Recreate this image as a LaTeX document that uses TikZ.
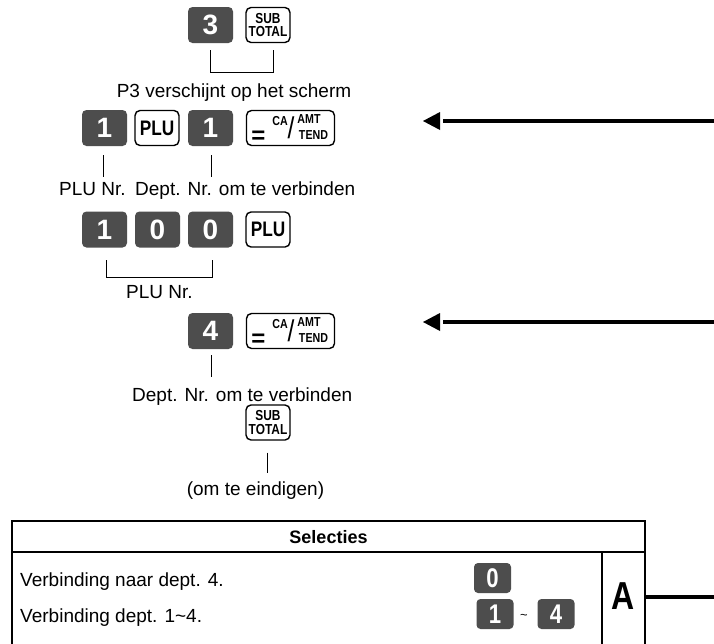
\documentclass[tikz,border=0pt]{standalone}
\usepackage{fontspec}
\setmainfont{Liberation Sans}
\newfontfamily\keyfont[FakeStretch=0.82]{Liberation Sans}
\usetikzlibrary{calc}
\definecolor{keygray}{RGB}{77,77,77}
\tikzset{
  dkey/.style={fill=keygray, draw=none, rounded corners=4.5pt, minimum width=45pt, minimum height=36pt, inner sep=0pt, text=white, font=\bfseries\fontsize{28}{28}\selectfont},
  wkey/.style={draw=black, line width=1.4pt, fill=white, rounded corners=5pt, minimum width=44pt, minimum height=35pt, inner sep=0pt, font=\keyfont\bfseries\fontsize{21}{21}\selectfont},
  subkey/.style={wkey, align=center, font=\keyfont\bfseries\fontsize{14.5}{13.5}\selectfont},
  cakey/.style={wkey, minimum width=88pt},
  cafont/.style={inner sep=0pt, font=\keyfont\bfseries\fontsize{13}{13}\selectfont},
  skey/.style={dkey, rounded corners=4pt, minimum width=37pt, minimum height=30pt, font=\keyfont\bfseries\fontsize{27}{27}\selectfont},
  lbl/.style={font=\fontsize{19}{22}\selectfont, inner sep=0pt},
  tickline/.style={line width=1pt},
  brk/.style={line width=1pt},
  fat/.style={line width=4.5pt},
  tline/.style={line width=1.8pt},
}
\newcommand\CAcontents[1]{%
  \node[cafont, font=\bfseries\fontsize{24}{24}\selectfont] (#1-eq) at ($(#1.center)+(-32,9)$) {=};
  \node[cafont] (#1-ca) at ($(#1.center)+(-10.5,-7)$) {CA};
  \node[cafont, font=\keyfont\fontsize{30}{30}\selectfont] (#1-sl) at ($(#1.center)+(0.5,0)$) {/};
  \node[cafont] (#1-amt) at ($(#1.center)+(18.5,-9)$) {AMT};
  \node[cafont] (#1-tend) at ($(#1.center)+(23,7)$) {TEND};
}
\begin{document}
\begin{tikzpicture}[x=1pt,y=-1pt]
\path[fill=white] (0,0) rectangle (714,643);
\useasboundingbox (0,0) rectangle (714,643);

% Row 1
\node[dkey] (k3) at (210.5,25) {3};
\node[subkey] (st1) at (268,25) {SUB\\TOTAL};
\draw[brk] ($(k3.south)+(0,7)$) |- ($(st1.south)+(5,29)$) -- ($(st1.south)+(5,7)$);
\node[lbl, anchor=base] (t1) at (234,97) {P3 verschijnt op het scherm};

% Row 2
\node[dkey] (k1a) at (104.5,128) {1};
\node[wkey] (plu1) at (157,128) {PLU};
\node[dkey] (k1b) at (210.5,128) {1};
\node[cakey] (ca1) at (290.5,128) {};
\CAcontents{ca1}
\node[lbl, anchor=base west] (lp1) at (59,195) {PLU Nr.};
\node[lbl, anchor=base west] (ld1) at (135,195) {Dept. Nr. om te verbinden};
\draw[tickline] ($(k1a.south)+(-1,9)$) -- ($(k1a.south)+(-1,31)$);
\draw[tickline] ($(k1b.south)+(1,9)$) -- ($(k1b.south)+(1,31)$);

% Arrow 1
\coordinate (a1end) at (716,121);
\coordinate (a1tip) at (423,121);
\draw[fat] (a1end) -- ($(a1tip)+(20,0)$);
\fill (a1tip) -- ++(17,-9) -- ++(0,18) -- cycle;

% Row 3
\node[dkey] (r1) at (104.5,229.5) {1};
\node[dkey] (r0a) at (157.5,229.5) {0};
\node[dkey] (r0b) at (210.5,229.5) {0};
\node[wkey] (plu2) at (268,229.5) {PLU};
\draw[brk] ($(r1.south)+(2,12.5)$) |- ($(r0b.south)+(1.5,29.5)$) -- ($(r0b.south)+(1.5,12.5)$);
\node[lbl, anchor=base] (lp2) at (159.5,298) {PLU Nr.};

% Row 4
\node[dkey] (k4) at (210.5,331) {4};
\node[cakey] (ca2) at (290.5,331) {};
\CAcontents{ca2}
\coordinate (a2end) at (716,322);
\coordinate (a2tip) at (423,322);
\draw[fat] (a2end) -- ($(a2tip)+(20,0)$);
\fill (a2tip) -- ++(17,-9) -- ++(0,18) -- cycle;
\draw[tickline] ($(k4.south)+(1,6)$) -- ($(k4.south)+(1,28)$);
\node[lbl, anchor=base west] (ld2) at (132,401) {Dept. Nr. om te verbinden};
\node[subkey] (st2) at (268,422.5) {SUB\\TOTAL};
\draw[tickline] ($(st2.south)+(-1,12)$) -- ($(st2.south)+(-1,32)$);
\node[lbl, anchor=base] (le) at (255.5,495) {(om te eindigen)};

% Table
\draw[tline] (12,650) -- (12,521) -- (645,521) -- (645,650);
\draw[tline] (12,552) -- (645,552);
\draw[tline] (602,552) -- (602,650);
\node[lbl, font=\bfseries\fontsize{18}{20}\selectfont] (sel) at (328.5,537) {Selecties};
\node[lbl, anchor=base west] (v1) at (20,586) {Verbinding naar dept. 4.};
\node[lbl, anchor=base west] (v2) at (20,622) {Verbinding dept. 1\textasciitilde 4.};
\node[skey] (s0) at (492.5,578) {0};
\node[skey] (s1) at (495,614) {1};
\node[lbl, font=\fontsize{13}{13}\selectfont] (tl) at (524,617) {\textasciitilde};
\node[skey] (s4) at (556,614) {4};
\node[inner sep=0pt, font=\keyfont\bfseries\fontsize{39}{39}\selectfont] (A) at (623.5,596) {A};
\coordinate (Aout) at (716,597);
\draw[fat] (645,597) -- (Aout);
\end{tikzpicture}
\end{document}
